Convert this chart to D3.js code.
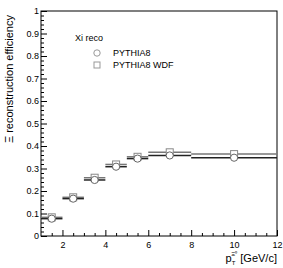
<!DOCTYPE html>
<html><head><meta charset="utf-8">
<script src="https://cdn.jsdelivr.net/npm/d3@7"></script>
<style>
body{margin:0;background:#fff;}
svg{display:block;font-family:"Liberation Sans",Arial,sans-serif;}
</style></head>
<body><svg id="c" width="283" height="268"></svg>
<script>
const binLow = [1, 2, 3, 4, 5, 6, 8];
const binHigh = [2, 3, 4, 5, 6, 8, 12];
const pythia8 = [0.077, 0.166, 0.249, 0.308, 0.344, 0.358, 0.348];
const pythia8wdf = [0.083, 0.172, 0.259, 0.318, 0.352, 0.372, 0.364];
const xMajor = [2, 4, 6, 8, 10, 12];
const yMajor = [0, 0.1, 0.2, 0.3, 0.4, 0.5, 0.6, 0.7, 0.8, 0.9, 1];
const legendTitle = "Xi reco";
const seriesNames = ["PYTHIA8", "PYTHIA8 WDF"];

const svg = d3.select("#c");
const L = 41, R = 277, T = 11, B = 236;
const x = d3.scaleLinear().domain([1, 12]).range([L, R]);
const y = d3.scaleLinear().domain([0, 1]).range([B, T]);

// minor ticks
const xMinor = d3.range(1.5, 12, 0.5).filter(v => Math.abs(v / 2 - Math.round(v / 2)) > 1e-6);
const yMinor = d3.range(0, 1.0001, 0.02).filter(v => Math.abs(v * 10 - Math.round(v * 10)) > 1e-6);

const gx = svg.append("g").attr("transform", `translate(0,${B})`);
gx.call(d3.axisBottom(x).tickValues(xMinor).tickSize(-3).tickFormat(""));
gx.call(g => g.select(".domain").remove());
const gx2 = svg.append("g").attr("transform", `translate(0,${B})`);
gx2.call(d3.axisBottom(x).tickValues(xMajor).tickSize(-6).tickPadding(4).tickFormat(d3.format("d")));
gx2.call(g => g.select(".domain").remove());
gx2.selectAll("text").attr("font-size", 9).attr("fill", "#000").attr("dy", "0.9em");

const gy = svg.append("g").attr("transform", `translate(${L},0)`);
gy.call(d3.axisLeft(y).tickValues(yMinor).tickSize(-3).tickFormat(""));
gy.call(g => g.select(".domain").remove());
const gy2 = svg.append("g").attr("transform", `translate(${L},0)`);
gy2.call(d3.axisLeft(y).tickValues(yMajor).tickSize(-6).tickPadding(2).tickFormat(d => d === 0 ? "0" : d === 1 ? "1" : d3.format(".1f")(d)));
gy2.call(g => g.select(".domain").remove());
gy2.selectAll("text").attr("font-size", 9).attr("fill", "#000");
svg.selectAll(".tick line").attr("stroke", "#000");

// frame
svg.append("rect").attr("x", L).attr("y", T).attr("width", R - L).attr("height", B - T)
  .attr("fill", "none").attr("stroke", "#000").attr("stroke-width", 1);

function series(vals, lineColor, markerColor, marker) {
  const g = svg.append("g");
  vals.forEach((v, i) => {
    g.append("line").attr("x1", x(binLow[i])).attr("x2", x(binHigh[i]))
      .attr("y1", y(v)).attr("y2", y(v)).attr("stroke", lineColor).attr("stroke-width", 1.5);
  });
  vals.forEach((v, i) => {
    const cx = x((binLow[i] + binHigh[i]) / 2), cy = y(v);
    if (marker === "circle") {
      g.append("circle").attr("cx", cx).attr("cy", cy).attr("r", 3.6)
        .attr("fill", "#fff").attr("stroke", markerColor).attr("stroke-width", 1);
    } else {
      g.append("rect").attr("x", cx - 3.5).attr("y", cy - 3.5).attr("width", 7).attr("height", 7)
        .attr("fill", "#fff").attr("stroke", markerColor).attr("stroke-width", 1);
    }
  });
}
series(pythia8wdf, "#777", "#888", "square");
series(pythia8, "#222", "#666", "circle");

// legend
svg.append("text").attr("x", 75).attr("y", 41).attr("font-size", 9).text(legendTitle);
svg.append("circle").attr("cx", 97).attr("cy", 53).attr("r", 3.2).attr("fill", "#fff").attr("stroke", "#999");
svg.append("rect").attr("x", 94).attr("y", 62).attr("width", 6).attr("height", 6).attr("fill", "#fff").attr("stroke", "#999");
svg.append("text").attr("x", 113).attr("y", 56).attr("font-size", 9).text(seriesNames[0]);
svg.append("text").attr("x", 113).attr("y", 68).attr("font-size", 9).text(seriesNames[1]);

// axis titles
const xt = svg.append("text").attr("x", R).attr("y", 262).attr("text-anchor", "end").attr("font-size", 11);
xt.append("tspan").text("p");
xt.append("tspan").attr("font-size", 6).attr("dy", 3).text("T");
xt.append("tspan").attr("font-size", 6).attr("dx", -4).attr("dy", -9).text("Ξ⁰");
xt.append("tspan").attr("dy", 6).text(" [GeV/c]");

svg.append("text").attr("transform", `translate(13,${T + 4}) rotate(-90)`).attr("text-anchor", "end")
  .attr("font-size", 11).text("Ξ reconstruction efficiency");
</script></body></html>
